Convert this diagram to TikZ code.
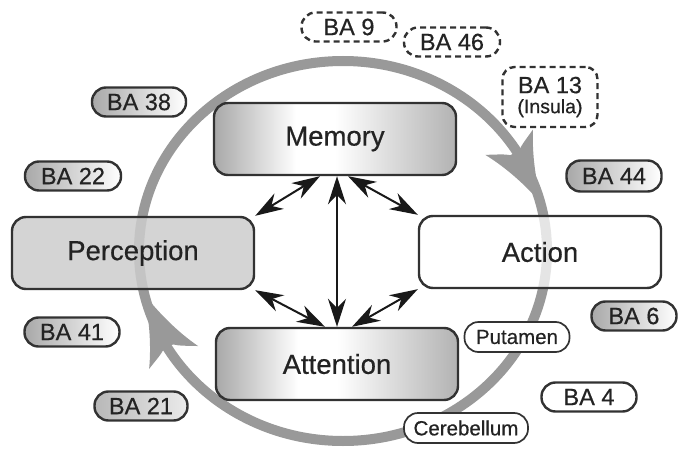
\documentclass[tikz,border=0pt]{standalone}
\usepackage{fontspec}
\setmainfont{Liberation Sans}[FakeBold=0.5]
\usetikzlibrary{arrows.meta}

\definecolor{edge}{RGB}{50,50,50}
\definecolor{ink}{RGB}{35,35,35}
\pgfdeclarehorizontalshading{boxshade}{100bp}{color(0bp)=(black!34); color(25bp)=(black!34); color(42bp)=(white); color(50bp)=(white); color(75bp)=(black!30); color(100bp)=(black!30)}

\begin{document}
\begin{tikzpicture}[x=1pt, y=-1pt,
    stage/.style={rectangle, rounded corners=14pt, minimum width=242pt, minimum height=72pt, text centered, draw=edge, line width=2.4pt, font=\fontsize{27.5}{30}\selectfont, text=ink},
    shadedStage/.style={stage, shade, shading=boxshade},
    area/.style={rectangle, rounded corners=14pt, minimum width=95pt, minimum height=29pt, inner sep=0pt, text centered, draw=edge, line width=2.4pt, font=\fontsize{23.5}{24}\selectfont, text=ink},
    shadedArea/.style={area, left color=black!34, right color=white},
    dashArea/.style={area, dash pattern=on 6pt off 4pt, fill=white},
    subArea/.style={area, line width=1.7pt, font=\fontsize{20.5}{22}\selectfont, fill=white},
    ring/.style={line width=10pt, draw=black!40},
    ringhead/.pic={\fill[black!40] (0pt,0pt) .. controls (-22pt,5pt) and (-48pt,14pt) .. (-70pt,27pt) .. controls (-65pt,17pt) and (-62pt,10pt) .. (-58pt,5pt) -- (-58pt,-5pt) .. controls (-62pt,-10pt) and (-65pt,-17pt) .. (-70pt,-27pt) .. controls (-48pt,-14pt) and (-22pt,-5pt) .. (0pt,0pt) -- cycle;},
    arrow/.style={line width=2pt, draw=black!90, {Stealth[length=28pt, width=18pt, inset=9pt]}-{Stealth[length=28pt, width=18pt, inset=9pt]}}
]
\useasboundingbox (0,0) rectangle (680,452);

% Cycle ring behind the stages, clockwise
\coordinate (ctr) at (343,251);
\coordinate (tipA) at (542,204);
\coordinate (tipB) at (144,294);
\draw[ring] (ctr) ellipse [x radius=204, y radius=190];
\pic[rotate=-62] at (tipA) {ringhead};
\pic[rotate=115] at (tipB) {ringhead};

% Stages
\node[shadedStage] (mem) at (335,139) {Memory};
\node[stage, fill=black!20, fill opacity=0.85, text opacity=1] (perc) at (133,253) {Perception};
\node[stage, fill=white, fill opacity=0.75, text opacity=1] (act) at (540,252) {Action};
\node[shadedStage] (att) at (337,364) {Attention};

% Links between stages
\draw[arrow] ([xshift=-15pt]mem.south) -- (perc.north east);
\draw[arrow] ([xshift=13pt]mem.south) -- (act.north west);
\draw[arrow] (att.north |- mem.south) -- (att.north);
\draw[arrow] (perc.south east) -- ([xshift=-12pt]att.north);
\draw[arrow] (act.south west) -- ([xshift=15pt]att.north);

% Brodmann areas
\node[shadedArea, minimum width=94pt] (ba38) at (139,102) {BA 38};
\node[shadedArea, minimum width=96pt] (ba22) at (73,176) {BA 22};
\node[shadedArea] (ba41) at (72,332) {BA 41};
\node[shadedArea, left color=black!28, right color=black!8, minimum width=93pt] (ba21) at (141,406) {BA 21};
\node[shadedArea, minimum height=31pt] (ba44) at (614,176) {BA 44};
\node[shadedArea, minimum width=85pt] (ba6) at (634,316) {BA 6};
\node[area, fill=white] (ba4) at (589,397) {BA 4};
\node[subArea, minimum width=105pt, minimum height=30pt] (put) at (517,337) {Putamen};
\node[subArea, minimum width=124pt, minimum height=30pt] (cer) at (466,428) {Cerebellum};
\node[dashArea] (ba9) at (349,27) {BA 9};
\node[dashArea, minimum width=96pt] (ba46) at (452,42) {BA 46};
\node[dashArea, minimum height=60pt, rounded corners=12pt, align=center, font=\fontsize{23.5}{20}\selectfont] (ba13) at (550,97) {BA 13\\\fontsize{19.5}{20}\selectfont (Insula)};

\end{tikzpicture}
\end{document}
